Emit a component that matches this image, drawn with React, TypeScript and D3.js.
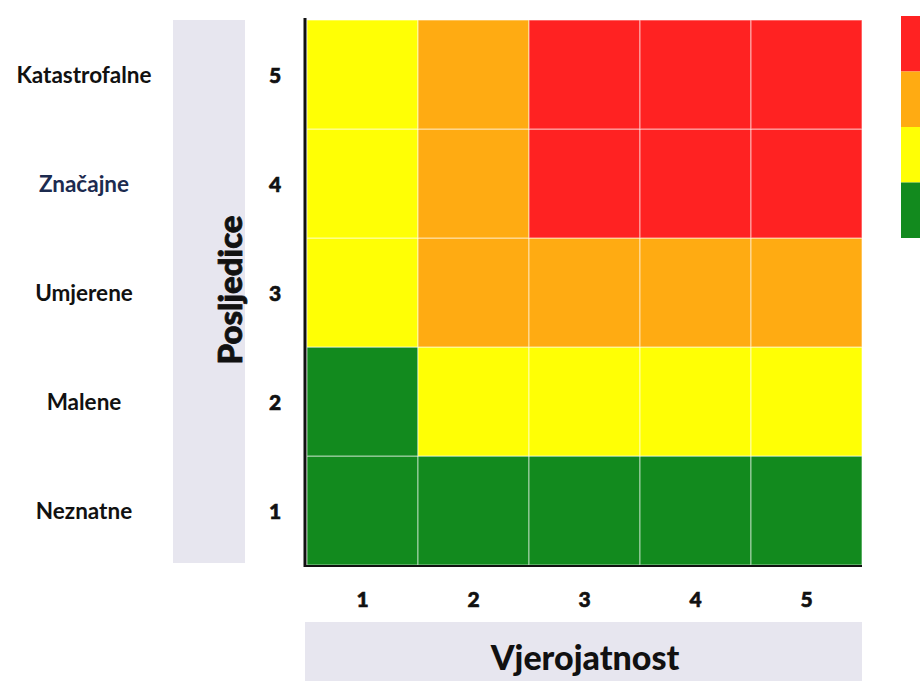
import React from "react";
import * as d3 from "d3";

const likelihood = [1, 2, 3, 4, 5];
const consequence = [1, 2, 3, 4, 5];
const consequenceNames = ["Neznatne", "Malene", "Umjerene", "Značajne", "Katastrofalne"];
const nameColors = ["#111111", "#111111", "#111111", "#1c2b4f", "#111111"];
// risk levels: rows from consequence 1 to 5, columns likelihood 1..5
// 0 = low (green), 1 = medium (yellow), 2 = high (orange), 3 = extreme (red)
const riskRow1 = [0, 0, 0, 0, 0];
const riskRow2 = [0, 1, 1, 1, 1];
const riskRow3 = [1, 2, 2, 2, 2];
const riskRow4 = [1, 2, 3, 3, 3];
const riskRow5 = [1, 2, 3, 3, 3];
const riskRows = [riskRow1, riskRow2, riskRow3, riskRow4, riskRow5];
const levelColors = ["#128a1e", "#ffff05", "#ffab12", "#ff2222"];
const legendOrder = [3, 2, 1, 0];

const FONT = "Lato, 'Open Sans', sans-serif";

export default function App() {
  const W = 920, H = 681;
  const x = d3.scaleBand<number>().domain(likelihood).range([307, 862]).padding(0);
  const y = d3.scaleBand<number>().domain(consequence.slice().reverse()).range([20, 565]).padding(0);
  const legendY = d3.scaleBand<number>().domain(legendOrder).range([16, 238]);

  const cells: any[] = [];
  consequence.forEach((c, ri) => {
    likelihood.forEach((l, ci) => {
      cells.push({ c, l, level: riskRows[ri][ci] });
    });
  });

  return (
    <svg width={W} height={H} style={{ position: "absolute", left: 0, top: 0, background: "#fff" }}>
      {/* y title band */}
      <rect x={173} y={20} width={72} height={543} fill="#e7e6ef" />
      <text
        transform={`translate(${229},${290}) rotate(-90)`}
        textAnchor="middle"
        dominantBaseline="central"
        fontFamily={FONT}
        fontWeight={900}
        fontSize={33}
        stroke="#111"
        strokeWidth={0.8}
        fill="#111"
      >
        Posljedice
      </text>
      {/* x title band */}
      <rect x={305} y={622} width={557} height={59} fill="#e7e6ef" />
      <text
        x={585}
        y={656}
        textAnchor="middle"
        dominantBaseline="central"
        fontFamily={FONT}
        fontWeight={900}
        fontSize={34}
        fill="#111"
      >
        Vjerojatnost
      </text>

      {/* cells */}
      {cells.map((d, i) => (
        <rect
          key={i}
          x={x(d.l)}
          y={y(d.c)}
          width={x.bandwidth()}
          height={y.bandwidth()}
          fill={levelColors[d.level]}
          stroke="#ffffff"
          strokeOpacity={0.6}
          strokeWidth={1}
        />
      ))}

      {/* axes lines */}
      <line x1={305} x2={305} y1={18} y2={567} stroke="#111" strokeWidth={3} />
      <line x1={304} x2={862} y1={566} y2={566} stroke="#111" strokeWidth={2} />

      {/* y tick numbers */}
      {consequence.map((c) => (
        <text
          key={"yn" + c}
          x={275}
          y={(y(c) as number) + y.bandwidth() / 2}
          textAnchor="middle"
          dominantBaseline="central"
          fontFamily={FONT}
          fontWeight={900}
          fontSize={21}
          stroke="#111"
          strokeWidth={0.6}
          fill="#111"
        >
          {c}
        </text>
      ))}
      {/* y category names */}
      {consequence.map((c, i) => (
        <text
          key={"yc" + c}
          x={84}
          y={(y(c) as number) + y.bandwidth() / 2}
          textAnchor="middle"
          dominantBaseline="central"
          fontFamily={FONT}
          fontWeight={700}
          fontSize={22.5}
          fill={nameColors[i]}
        >
          {consequenceNames[i]}
        </text>
      ))}
      {/* x tick numbers */}
      {likelihood.map((l) => (
        <text
          key={"xn" + l}
          x={(x(l) as number) + x.bandwidth() / 2}
          y={598}
          textAnchor="middle"
          dominantBaseline="central"
          fontFamily={FONT}
          fontWeight={900}
          fontSize={21}
          stroke="#111"
          strokeWidth={0.6}
          fill="#111"
        >
          {l}
        </text>
      ))}

      {/* legend */}
      {legendOrder.map((lv) => (
        <rect
          key={"lg" + lv}
          x={901}
          y={legendY(lv)}
          width={30}
          height={legendY.bandwidth()}
          fill={levelColors[lv]}
        />
      ))}
    </svg>
  );
}
